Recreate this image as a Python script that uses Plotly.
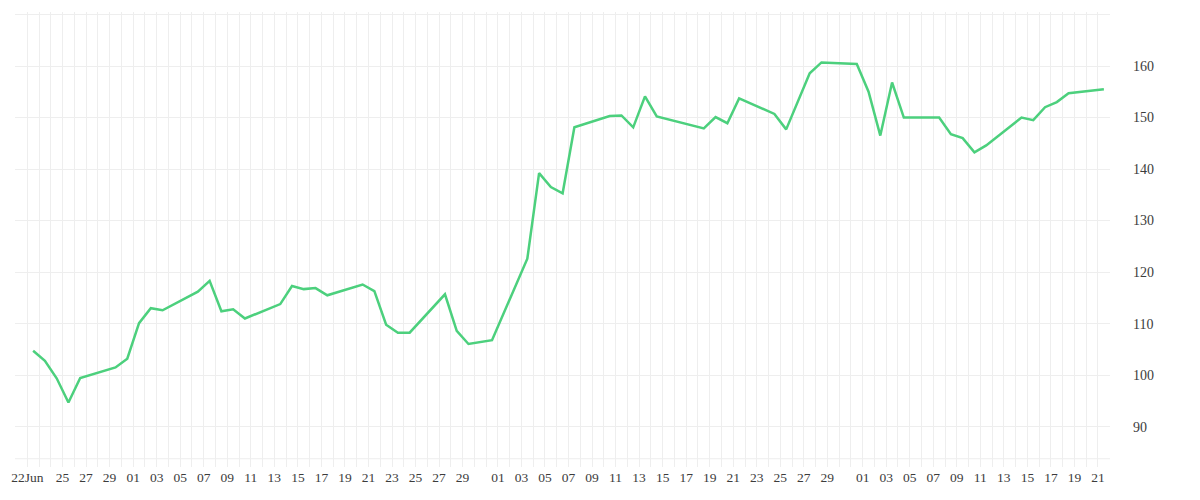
import pandas as pd
import plotly.graph_objects as go

# ---- data ----
dates = [
    "2020-06-22", "2020-06-23", "2020-06-24", "2020-06-25", "2020-06-26",
    "2020-06-29", "2020-06-30", "2020-07-01", "2020-07-02", "2020-07-03",
    "2020-07-06", "2020-07-07", "2020-07-08", "2020-07-09", "2020-07-10",
    "2020-07-13", "2020-07-14", "2020-07-15", "2020-07-16", "2020-07-17",
    "2020-07-20", "2020-07-21", "2020-07-22", "2020-07-23", "2020-07-24",
    "2020-07-27", "2020-07-28", "2020-07-29", "2020-07-31",
    "2020-08-03", "2020-08-04", "2020-08-05", "2020-08-06", "2020-08-07",
    "2020-08-10", "2020-08-11", "2020-08-12", "2020-08-13", "2020-08-14",
    "2020-08-17", "2020-08-18", "2020-08-19", "2020-08-20", "2020-08-21",
    "2020-08-24", "2020-08-25", "2020-08-27", "2020-08-28",
    "2020-08-31", "2020-09-01", "2020-09-02", "2020-09-03", "2020-09-04",
    "2020-09-07", "2020-09-08", "2020-09-09", "2020-09-10", "2020-09-11",
    "2020-09-14", "2020-09-15", "2020-09-16", "2020-09-17", "2020-09-18",
    "2020-09-21",
]
prices = [
    104.75, 102.8, 99.4, 94.7, 99.45,
    101.5, 103.2, 110.1, 113.0, 112.6,
    116.2, 118.3, 112.4, 112.8, 111.0,
    113.8, 117.3, 116.7, 116.9, 115.5,
    117.6, 116.3, 109.8, 108.25, 108.25,
    115.7, 108.6, 106.05, 106.8,
    122.6, 139.2, 136.5, 135.3, 148.1,
    150.3, 150.4, 148.1, 154.1, 150.2,
    148.5, 147.9, 150.1, 148.9, 153.7,
    150.7, 147.7, 158.6, 160.7,
    160.4, 155.0, 146.5, 156.8, 150.0,
    150.0, 146.75, 146.0, 143.25, 144.6,
    150.0, 149.5, 152.0, 153.0, 154.7,
    155.5,
]

x_tick_dates = [
    "2020-06-22", "2020-06-25", "2020-06-27", "2020-06-29",
    "2020-07-01", "2020-07-03", "2020-07-05", "2020-07-07", "2020-07-09",
    "2020-07-11", "2020-07-13", "2020-07-15", "2020-07-17", "2020-07-19",
    "2020-07-21", "2020-07-23", "2020-07-25", "2020-07-27", "2020-07-29",
    "2020-08-01", "2020-08-03", "2020-08-05", "2020-08-07", "2020-08-09",
    "2020-08-11", "2020-08-13", "2020-08-15", "2020-08-17", "2020-08-19",
    "2020-08-21", "2020-08-23", "2020-08-25", "2020-08-27", "2020-08-29",
    "2020-09-01", "2020-09-03", "2020-09-05", "2020-09-07", "2020-09-09",
    "2020-09-11", "2020-09-13", "2020-09-15", "2020-09-17", "2020-09-19",
    "2020-09-21",
]
x_tick_labels = ["22Jun"] + [d[-2:] for d in x_tick_dates[1:]]

y_tick_values = [90, 100, 110, 120, 130, 140, 150, 160, 170]
y_tick_labels = ["90", "100", "110", "120", "130", "140", "150", "160", ""]

# ---- figure ----
x = pd.to_datetime(dates) + pd.Timedelta(hours=12)  # each point sits mid-day

FONT = "Liberation Serif"
GRID = "#eeeeee"

fig = go.Figure()
fig.add_trace(go.Scatter(
    x=x, y=prices, mode="lines",
    line=dict(color="#4cd07d", width=2.5),
    hoverinfo="x+y", showlegend=False,
))

fig.update_layout(
    width=1200, height=500,
    margin=dict(l=15, r=90, t=12, b=33),
    paper_bgcolor="white", plot_bgcolor="white",
    font=dict(family=FONT, size=13.5, color="#3c3c3c"),
    xaxis=dict(
        type="date",
        range=["2020-06-20 23:00", "2020-09-22 00:30"],
        tickmode="array", tickvals=x_tick_dates, ticktext=x_tick_labels,
        showgrid=True, gridcolor=GRID, gridwidth=1,
        minor=dict(dtick=86400000, tick0="2020-06-21", showgrid=True,
                   gridcolor=GRID, gridwidth=1),
        ticks="", zeroline=False, showline=False,
        tickangle=0,
        tickfont=dict(family=FONT, size=13.5, color="#3c3c3c"),
    ),
    yaxis=dict(
        side="right",
        range=[82.18, 170.48],
        tickmode="array", tickvals=y_tick_values, ticktext=y_tick_labels,
        showgrid=True, gridcolor=GRID, gridwidth=1,
        ticks="", zeroline=False, showline=False,
        ticklabelstandoff=22,
        tickfont=dict(family=FONT, size=14, color="#3c3c3c"),
    ),
    shapes=[dict(type="line", xref="paper", yref="paper",
                 x0=0, x1=1, y0=0.0182, y1=0.0182,
                 line=dict(color=GRID, width=1), layer="below")],
)

fig.write_html(
    "out.html",
    config={"displayModeBar": False},
    post_script="document.body.style.margin='0';document.body.style.overflow='hidden';",
)
